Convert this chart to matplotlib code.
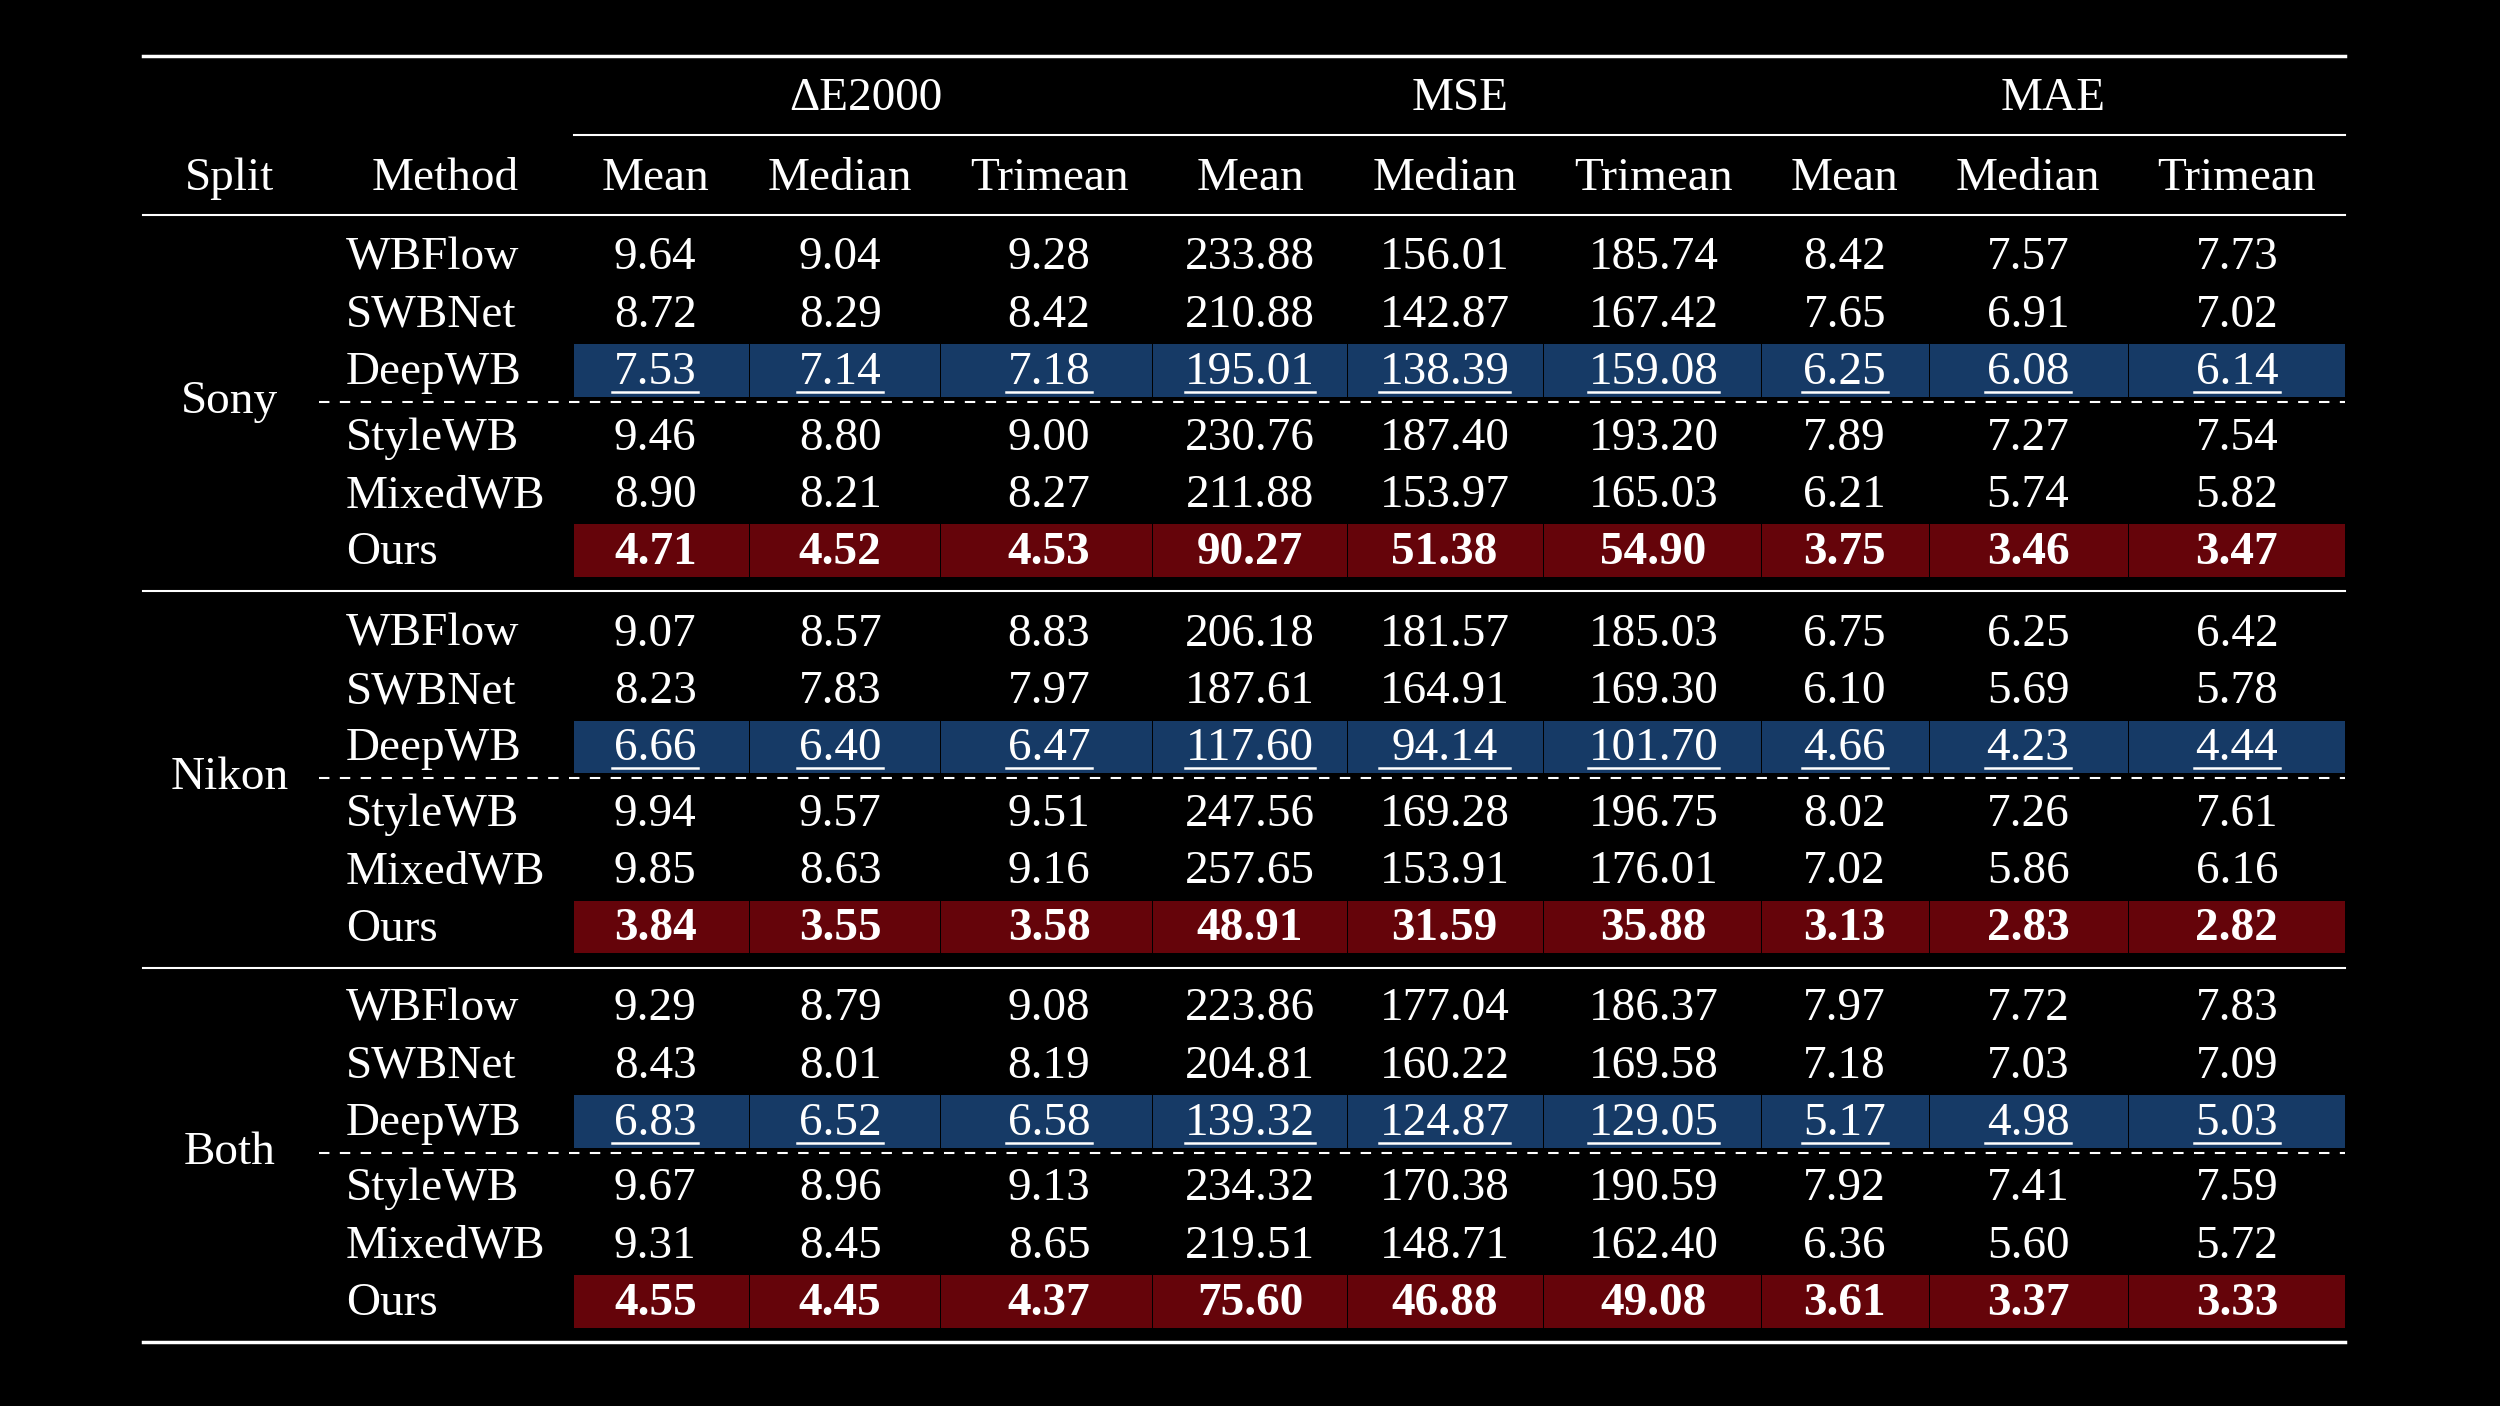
import matplotlib.pyplot as plt
from matplotlib.patches import Rectangle

splits = ["Sony", "Nikon", "Both"]
methods = ["WBFlow", "SWBNet", "DeepWB", "StyleWB", "MixedWB", "Ours"]
groups = ["\u0394E2000", "MSE", "MAE"]
subcols = ["Mean", "Median", "Trimean"]

sony = [
    [9.64, 9.04, 9.28, 233.88, 156.01, 185.74, 8.42, 7.57, 7.73],
    [8.72, 8.29, 8.42, 210.88, 142.87, 167.42, 7.65, 6.91, 7.02],
    [7.53, 7.14, 7.18, 195.01, 138.39, 159.08, 6.25, 6.08, 6.14],
    [9.46, 8.80, 9.00, 230.76, 187.40, 193.20, 7.89, 7.27, 7.54],
    [8.90, 8.21, 8.27, 211.88, 153.97, 165.03, 6.21, 5.74, 5.82],
    [4.71, 4.52, 4.53, 90.27, 51.38, 54.90, 3.75, 3.46, 3.47],
]
nikon = [
    [9.07, 8.57, 8.83, 206.18, 181.57, 185.03, 6.75, 6.25, 6.42],
    [8.23, 7.83, 7.97, 187.61, 164.91, 169.30, 6.10, 5.69, 5.78],
    [6.66, 6.40, 6.47, 117.60, 94.14, 101.70, 4.66, 4.23, 4.44],
    [9.94, 9.57, 9.51, 247.56, 169.28, 196.75, 8.02, 7.26, 7.61],
    [9.85, 8.63, 9.16, 257.65, 153.91, 176.01, 7.02, 5.86, 6.16],
    [3.84, 3.55, 3.58, 48.91, 31.59, 35.88, 3.13, 2.83, 2.82],
]
both = [
    [9.29, 8.79, 9.08, 223.86, 177.04, 186.37, 7.97, 7.72, 7.83],
    [8.43, 8.01, 8.19, 204.81, 160.22, 169.58, 7.18, 7.03, 7.09],
    [6.83, 6.52, 6.58, 139.32, 124.87, 129.05, 5.17, 4.98, 5.03],
    [9.67, 8.96, 9.13, 234.32, 170.38, 190.59, 7.92, 7.41, 7.59],
    [9.31, 8.45, 8.65, 219.51, 148.71, 162.40, 6.36, 5.60, 5.72],
    [4.55, 4.45, 4.37, 75.60, 46.88, 49.08, 3.61, 3.37, 3.33],
]
tables = [sony, nikon, both]

BLUE = "#163a66"
RED = "#65040a"
FS = 34
plt.rcParams["font.family"] = "Liberation Serif"

fig = plt.figure(figsize=(25, 14.06), dpi=100, facecolor="black")
ax = fig.add_axes([0, 0, 1, 1])
ax.set_xlim(0, 1568)
ax.set_ylim(882, 0)
ax.axis("off")

L, R = 90, 1471
col_x = [411, 527, 658, 784, 906, 1037, 1157, 1272, 1403]
col_edges = [360, 470, 590, 723, 845, 968, 1105, 1210, 1335, 1471]
group_x = [543, 916, 1288]

def txt(x, y, s, ha="center", bold=False, underline=False):
    ax.text(x, y + 2, s, ha=ha, va="center", color="white", fontsize=FS,
            fontfamily="Liberation Serif",
            fontweight="bold" if bold else "normal")
    if underline:
        w = 27 if len(s) == 4 else 41
        ax.plot([x - w, x + w], [y + 14, y + 14], color="white", lw=1.8)

# rules
ax.plot([L, R], [35, 35], color="white", lw=2.5)
ax.plot([360, R], [85, 85], color="white", lw=1.5)
ax.plot([L, R], [135, 135], color="white", lw=1.5)

for g, x in zip(groups, group_x):
    txt(x, 60, g)
txt(144, 110, "Split")
txt(279, 110, "Method")
for i, x in enumerate(col_x):
    txt(x, 110, subcols[i % 3])

block_top = [160, 396, 631]
offsets = [0, 36, 72, 113, 149, 185]
for b, (split, data) in enumerate(zip(splits, tables)):
    y0 = block_top[b]
    # highlighted rows
    for j in range(9):
        x0, x1 = col_edges[j], col_edges[j + 1]
        ax.add_patch(Rectangle((x0 + 0.2, y0 + 72 - 16), x1 - x0 - 0.4, 33,
                               facecolor=BLUE, edgecolor="none"))
        ax.add_patch(Rectangle((x0 + 0.2, y0 + 185 - 16), x1 - x0 - 0.4, 33,
                               facecolor=RED, edgecolor="none"))
    ax.plot([200, R], [y0 + 92, y0 + 92], color="white", lw=1.5,
            linestyle=(0, (5, 5)))
    txt(144, y0 + 90, split)
    for r, m in enumerate(methods):
        y = y0 + offsets[r]
        txt(217, y, m, ha="left")
        for j, v in enumerate(data[r]):
            txt(col_x[j], y, f"{v:.2f}", bold=(r == 5), underline=(r == 2))
    if b < 2:
        ax.plot([L, R], [y0 + 211, y0 + 211], color="white", lw=1.5)
ax.plot([L, R], [842, 842], color="white", lw=2.5)

fig.savefig("out.png", facecolor="black")
